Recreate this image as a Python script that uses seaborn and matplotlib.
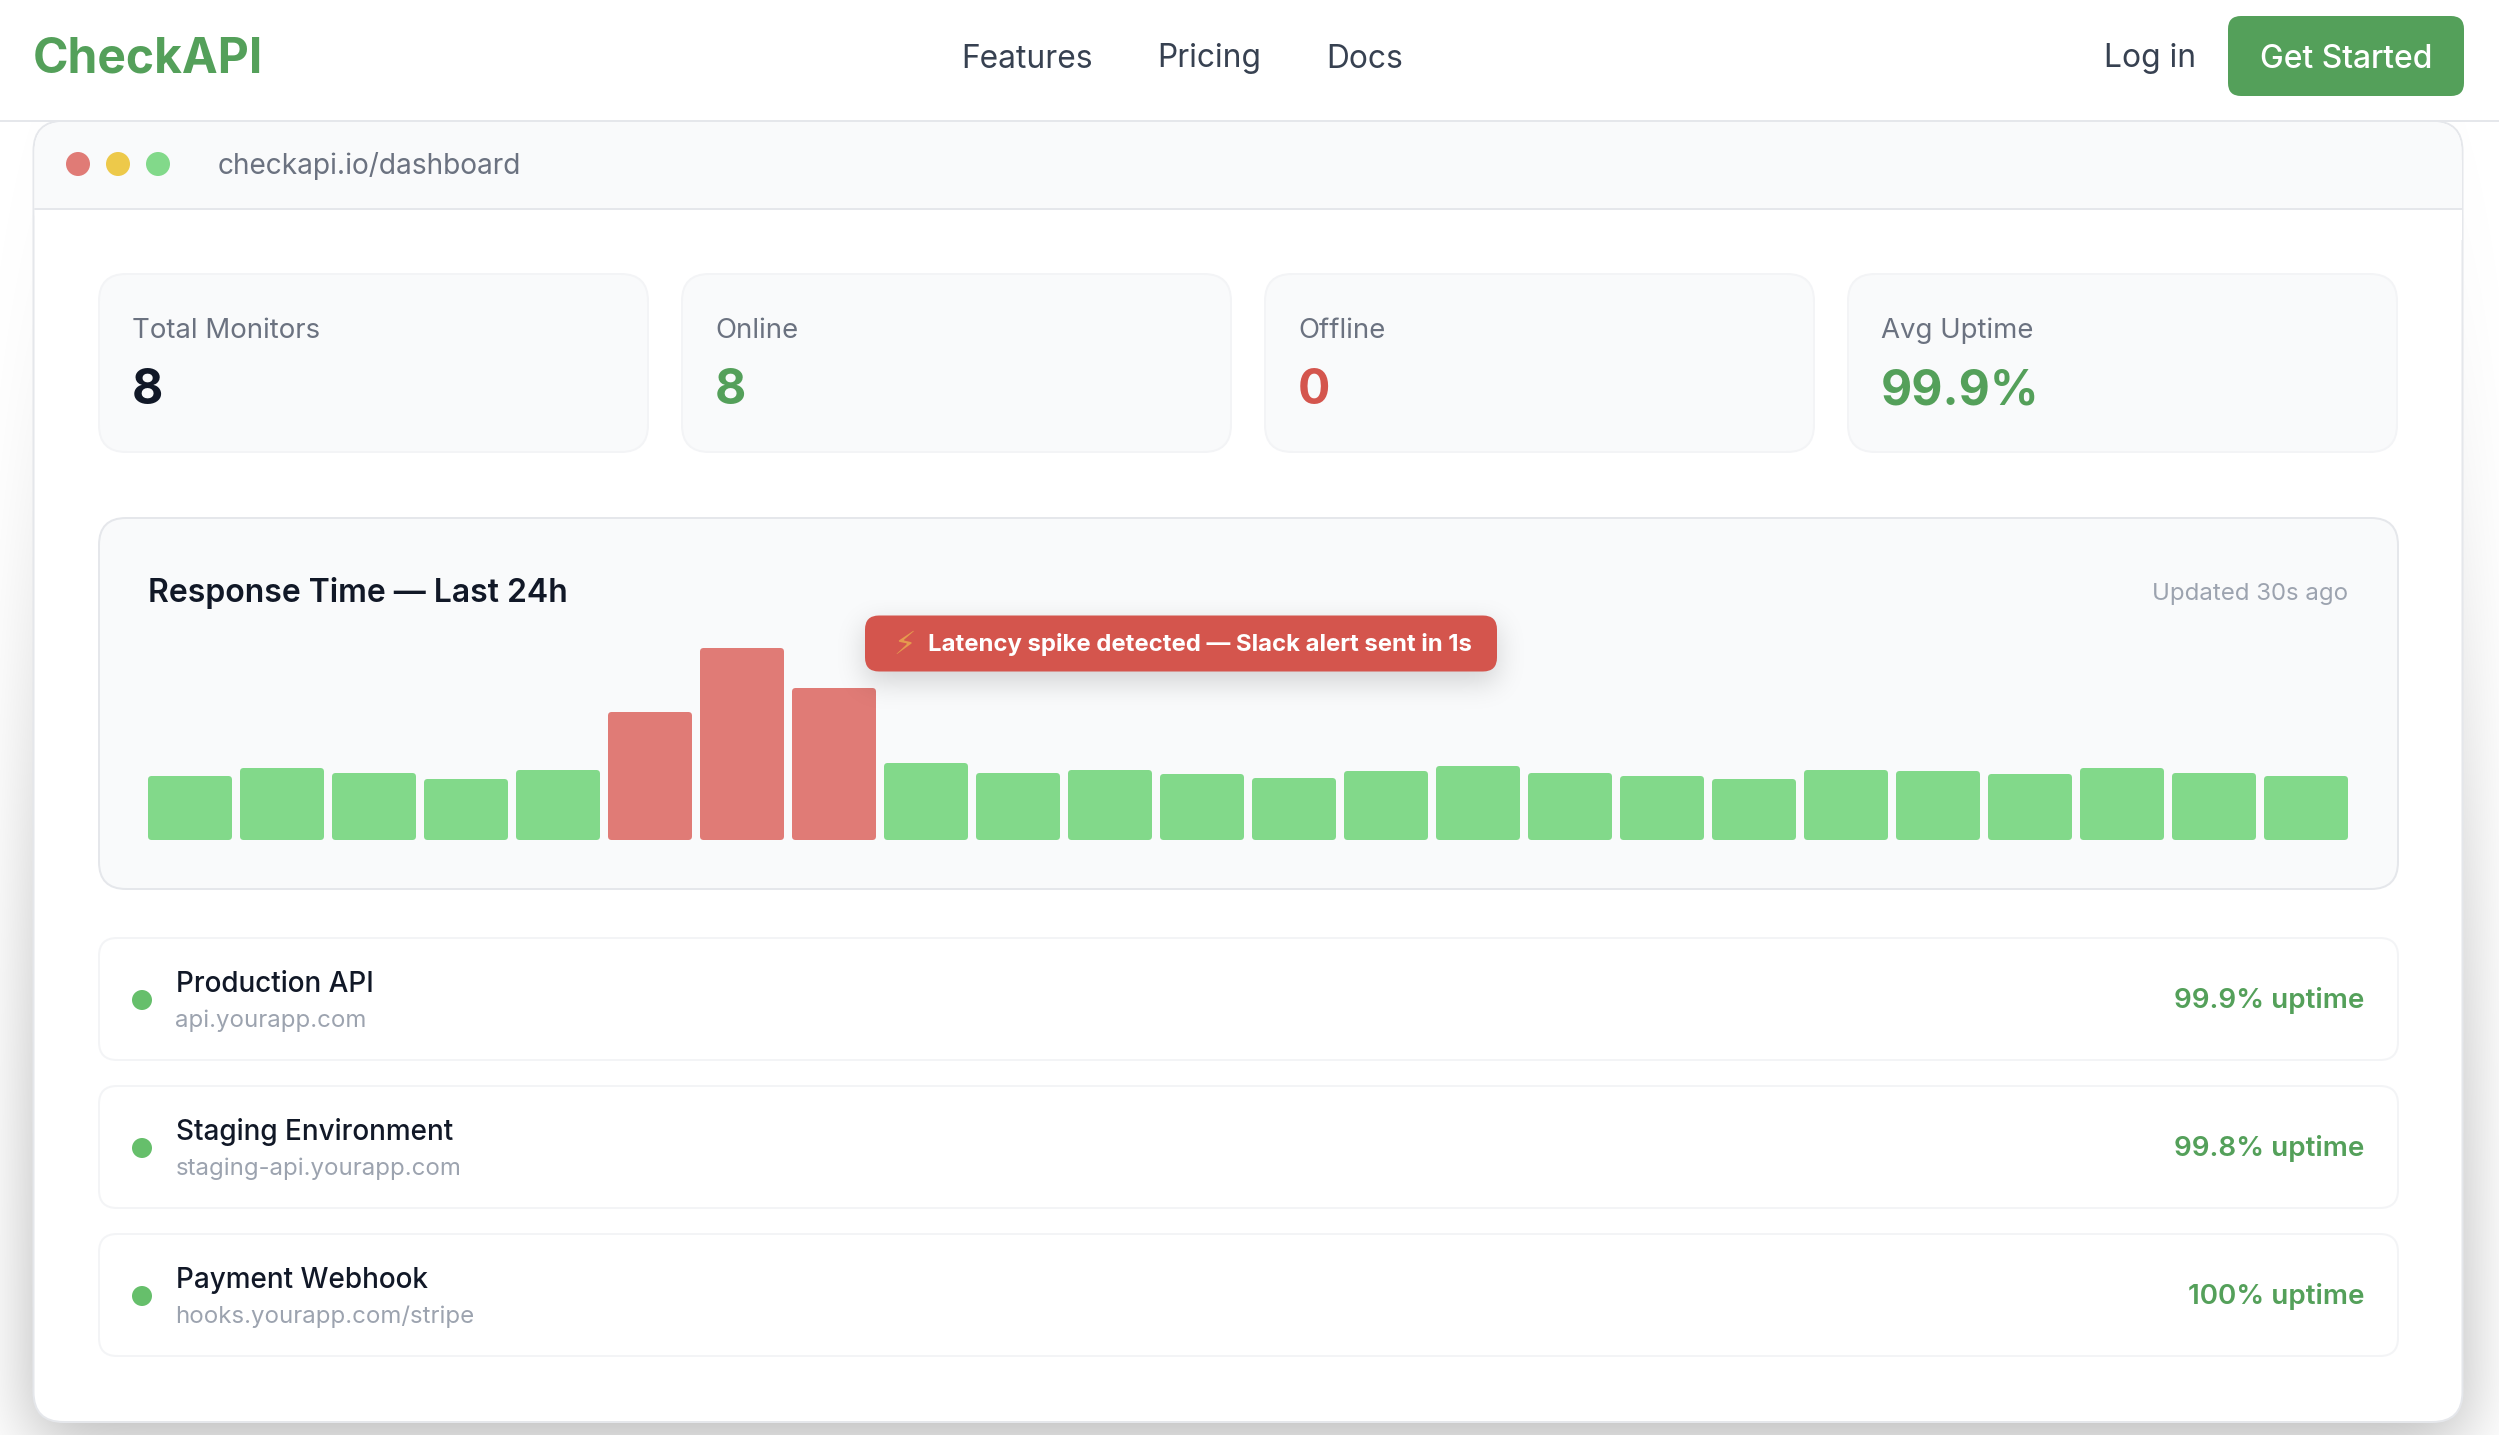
import math
import numpy as np
import pandas as pd
import matplotlib
matplotlib.use("Agg")
import matplotlib.pyplot as plt
import seaborn as sns
from matplotlib.patches import FancyBboxPatch, Circle, Rectangle

# 1. Values
hours = ["0h", "1h", "2h", "3h", "4h", "5h", "6h", "7h", "8h", "9h", "10h", "11h",
         "12h", "13h", "14h", "15h", "16h", "17h", "18h", "19h", "20h", "21h", "22h", "23h"]
response = [64, 72, 67, 61, 70, 128, 192, 152, 77, 67, 70, 66,
            62, 69, 74, 67, 64, 61, 70, 69, 66, 72, 67, 64]
status = ["ok", "ok", "ok", "ok", "ok", "spike", "spike", "spike", "ok", "ok", "ok", "ok",
          "ok", "ok", "ok", "ok", "ok", "ok", "ok", "ok", "ok", "ok", "ok", "ok"]

stat_labels = ["Total Monitors", "Online", "Offline", "Avg Uptime"]
stat_values = ["8", "8", "0", "99.9%"]
monitor_names = ["Production API", "Staging Environment", "Payment Webhook"]
monitor_hosts = ["api.yourapp.com", "staging-api.yourapp.com", "hooks.yourapp.com/stripe"]
monitor_uptime = ["99.9% uptime", "99.8% uptime", "100% uptime"]
nav_links = ["Features", "Pricing", "Docs"]

GREEN = "#54A05A"
RED = "#D4554D"
INK = "#111827"
GREY = "#6B7280"
LIGHT = "#9CA3AF"
PANEL = "#F9FAFB"
LINE = "#E5E7EB"
SOFT = "#F3F4F6"

sns.set_theme(style="white")
plt.rcParams["font.family"] = ["Inter", "DejaVu Sans"]

W, H = 2499, 1435
fig = plt.figure(figsize=(W / 100, H / 100), dpi=100, facecolor="white")


def pixel_axes(zorder):
    a = fig.add_axes([0, 0, 1, 1], zorder=zorder)
    a.set_xlim(0, W)
    a.set_ylim(H, 0)
    a.axis("off")
    a.patch.set_alpha(0)
    return a


def px(size):
    return size * 0.72


def box(a, x0, y0, x1, y1, r, fill, edge=None, lw=2, z=2):
    a.add_patch(FancyBboxPatch((x0 + r, y0 + r), x1 - x0 - 2 * r, y1 - y0 - 2 * r,
                               boxstyle=f"round,pad={r},rounding_size={r}",
                               fc=fill, ec=edge if edge else "none",
                               lw=px(lw), zorder=z))


def soft_shadow(a, x0, x1, y0, y1, sx, sy, alpha, area, z=1):
    xs = np.arange(area[0], area[1]) + 0.5
    ys = np.arange(area[2], area[3]) + 0.5
    erf = np.vectorize(math.erf)
    fx = 0.5 * (erf((xs - x0) / (sx * 1.414)) - erf((xs - x1) / (sx * 1.414)))
    fy = 0.5 * (erf((ys - y0) / (sy[0] * 1.414)) - erf((ys - y1) / (sy[1] * 1.414)))
    rgba = np.zeros((len(ys), len(xs), 4))
    rgba[..., 3] = alpha * np.outer(fy, fx)
    a.imshow(rgba, extent=(area[0], area[1], area[3], area[2]), aspect="auto", zorder=z)
    a.set_xlim(0, W)
    a.set_ylim(H, 0)


ax = pixel_axes(1)

# 2. Page chrome: window shadow, window, nav bar
soft_shadow(ax, 33, 2463, 700, 1440, 35, (300, 35), 0.3, (0, W, 122, H))
box(ax, 33.5, 121, 2462.5, 1422, 30, "white", LINE, z=2)
box(ax, 34.5, 122, 2461.5, 240, 29, PANEL, None, z=3)
ax.add_patch(Rectangle((34.5, 160), 2427, 48, fc=PANEL, ec="none", zorder=3))
ax.add_patch(Rectangle((34.5, 209), 2427, 31, fc="white", ec="none", zorder=3))
ax.plot([34.5, 2461.5], [209, 209], color=LINE, lw=px(2), zorder=4)
ax.add_patch(Rectangle((0, 0), W, 120, fc="white", ec="none", zorder=5))
ax.plot([0, W], [121, 121], color=LINE, lw=px(2), zorder=6)

ax.text(32.5, 72.5, "CheckAPI", color=GREEN, fontsize=px(48), fontweight="bold", zorder=7)
for name, x in zip(nav_links, [961.5, 1157.5, 1326.5]):
    ax.text(x, 67.5, name, color="#374151", fontsize=px(31.7), zorder=7)
ax.text(2103.5, 67.5, "Log in", color="#374151", fontsize=px(31.8), zorder=7)
box(ax, 2228, 16, 2464, 96, 13, GREEN, None, z=7)
ax.text(2346, 67.5, "Get Started", color="white", fontsize=px(31.8), ha="center",
        fontweight="medium", zorder=8)

# 3. Browser bar
for x, c in zip([78, 118, 158], ["#E07B76", "#EDC94A", "#82D98A"]):
    ax.add_patch(Circle((x, 164), 12, fc=c, ec="none", zorder=7))
ax.text(218, 174, "checkapi.io/dashboard", color=GREY, fontsize=px(28.1), zorder=7)

# 4. Stat cards
card_left = [99, 682, 1265, 1848]
value_colors = [INK, GREEN, RED, GREEN]
for x, label, value, c in zip(card_left, stat_labels, stat_values, value_colors):
    box(ax, x, 274, x + 549, 452, 27, PANEL, SOFT, z=7)
    ax.text(x + 33, 337.5, label, color=GREY, fontsize=px(27.6), zorder=8)
    ax.text(x + 33, 404.5, value, color=c, fontsize=px(48), fontweight="bold", zorder=8)

# 5. Chart panel
box(ax, 99, 518, 2398, 889, 27, PANEL, LINE, z=7)
ax.text(148, 602, "Response Time — Last 24h", color=INK, fontsize=px(32),
        fontweight="semibold", zorder=8)
ax.text(2348.5, 600, "Updated 30s ago", color=LIGHT, fontsize=px(24), ha="right", zorder=8)

# 6. Bars, through seaborn; one category step is 92 px
ax_bars = fig.add_axes([144 / W, 1 - 840 / H, 2208 / W, 200 / H], zorder=2)
df = pd.DataFrame({"hour": hours, "response": response, "status": status})
sns.barplot(data=df, x="hour", y="response", hue="status", dodge=False, saturation=1,
            palette={"ok": "#82D98A", "spike": "#E07B76"}, width=84 / 92,
            legend=False, ax=ax_bars)
ax_bars.set_xlim(-0.5, 23.5)
ax_bars.set_ylim(0, 200)
ax_bars.axis("off")
ax_bars.patch.set_alpha(0)
for bar in list(ax_bars.patches):
    if bar.get_height() <= 0:
        continue
    ax_bars.add_patch(FancyBboxPatch((bar.get_x(), bar.get_y()), bar.get_width(), bar.get_height(),
                                     boxstyle="round,pad=0,rounding_size=0.04", mutation_aspect=92,
                                     fc=bar.get_facecolor(), ec="none"))
    bar.set_visible(False)

# 7. Alert pill on top of the bars
ax_top = pixel_axes(3)
soft_shadow(ax_top, 865, 1497, 625, 682, 14, (14, 14), 0.16, (810, 1550, 600, 730), z=1)
box(ax_top, 865, 615.5, 1497, 671.5, 14, RED, None, z=2)
ax_top.text(905, 654, "⚡", color="#E59A4E", fontsize=px(32), ha="center",
            family="DejaVu Sans", zorder=3)
ax_top.text(928, 651, "Latency spike detected — Slack alert sent in 1s", color="white",
            fontsize=px(23.9), fontweight="bold", zorder=3)

# 8. Monitor rows
row_top = [938, 1086, 1234]
for y, name, host, up in zip(row_top, monitor_names, monitor_hosts, monitor_uptime):
    box(ax, 99, y, 2398, y + 122, 18, "white", SOFT, z=7)
    ax.add_patch(Circle((142, y + 62), 10, fc="#66BF6B", ec="none", zorder=8))
    ax.text(175.5, y + 54.5, name, color=INK, fontsize=px(27.9), fontweight="medium", zorder=8)
    ax.text(175.5, y + 89, host, color=LIGHT, fontsize=px(24), zorder=8)
    ax.text(2364.5, y + 70.5, up, color=GREEN, fontsize=px(27.8), fontweight="semibold",
            ha="right", zorder=8)

plt.savefig("out.png", dpi=100)
